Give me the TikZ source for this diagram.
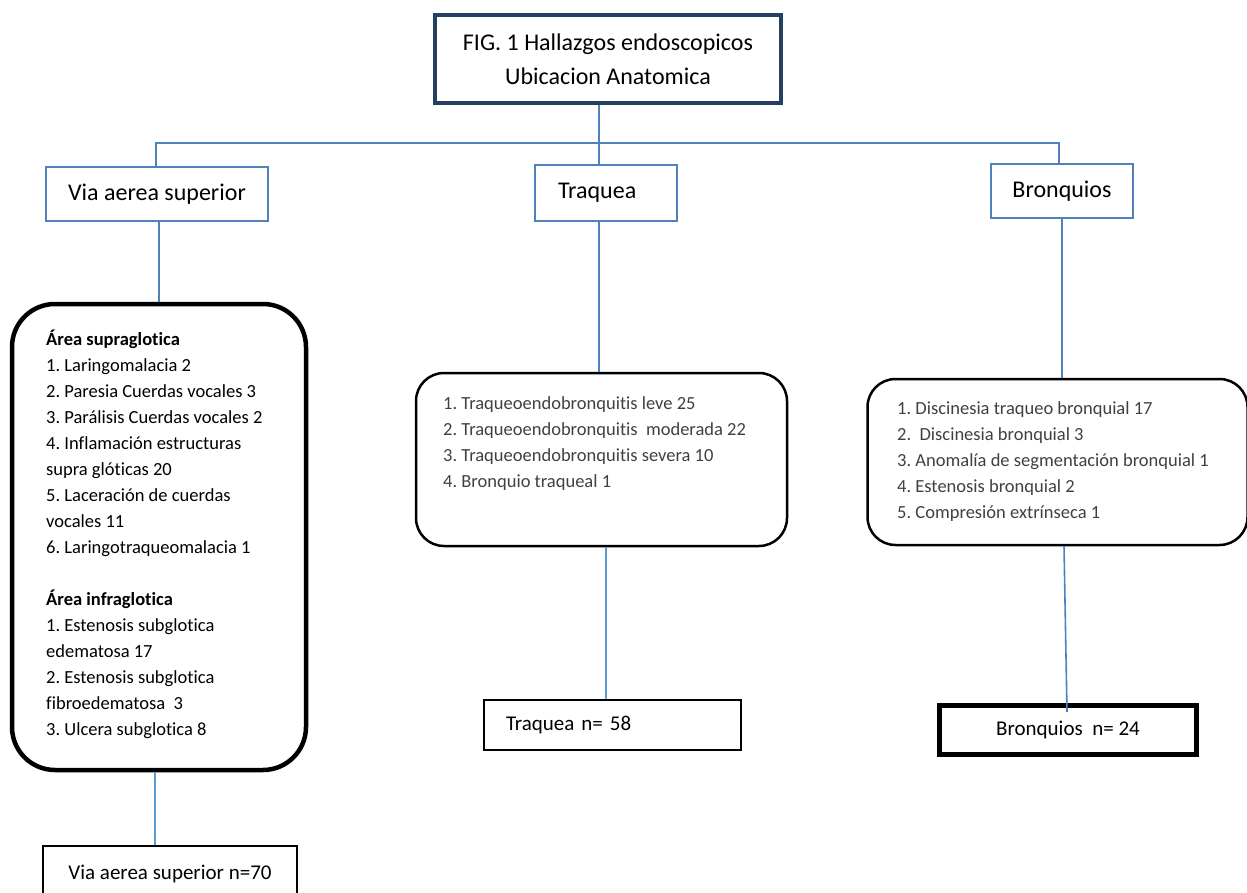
\documentclass[tikz,border=0pt]{standalone}
\usepackage{fontspec}
\setmainfont{Carlito}[Ligatures=NoCommon]
\frenchspacing
\definecolor{navy}{HTML}{243F60}
\definecolor{offblue}{HTML}{4F81BD}
\definecolor{litblue}{HTML}{5B9BD5}
\definecolor{txtgray}{HTML}{404040}
\begin{document}
\frenchspacing
\begin{tikzpicture}[x=1pt,y=-1pt,
  titlebox/.style={draw=navy,line width=4.5pt,rectangle,minimum width=346pt,minimum height=88pt,align=center,inner sep=0pt,font=\fontsize{24}{34}\selectfont},
  catbox/.style={draw=offblue,line width=2.5pt,rectangle,inner sep=0pt,font=\fontsize{24}{29}\selectfont},
  listbox/.style={draw=black,rectangle,rounded corners=#1,inner sep=0pt},
  listtext/.style={anchor=north west,align=left,inner sep=0pt,font=\fontsize{18.5}{26}\selectfont},
  nbox/.style={draw=black,rectangle,inner sep=0pt,font=\fontsize{21}{26}\selectfont},
  conn/.style={draw=offblue,line width=1.6pt},
  connlo/.style={draw=litblue,line width=1.2pt}
]
\useasboundingbox (0,0) rectangle (1247,893);

% top level
\node[titlebox] (title) at (608,59) {FIG. 1 Hallazgos endoscopicos\\Ubicacion Anatomica};

% category boxes
\node[catbox,minimum width=222pt,minimum height=54pt] (via) at (157,194) {Via aerea superior};
\node[catbox,minimum width=142pt,minimum height=56pt,text width=96pt,align=left,inner xsep=23pt] (traq) at (606,193) {Traquea};
\node[catbox,minimum width=142pt,minimum height=54pt] (bron) at (1062,191) {Bronquios};

% list boxes
\node[listbox=43pt,line width=4.5pt,minimum width=294pt,minimum height=466pt] (lboxL) at (159,537) {};
\node[listbox=28pt,line width=2.5pt,minimum width=371pt,minimum height=173pt] (lboxM) at (601.5,459.5) {};
\node[listbox=28pt,line width=2.5pt,minimum width=380pt,minimum height=166pt] (lboxR) at (1057.5,462) {};

\node[listtext] (txtL) at (46,327) {\strut\textbf{Área supraglotica}\\
1. Laringomalacia 2\\
2. Paresia Cuerdas vocales 3\\
3. Parálisis Cuerdas vocales 2\\
4. Inflamación estructuras\\
supra glóticas 20\\
5. Laceración de cuerdas\\
vocales 11\\
6. Laringotraqueomalacia 1\\[26pt]
\textbf{Área infraglotica}\\
1. Estenosis subglotica\\
edematosa 17\\
2. Estenosis subglotica\\
fibroedematosa~~3\\
3. Ulcera subglotica 8};

\node[listtext,text=txtgray] (txtM) at (443,391) {\strut 1. Traqueoendobronquitis leve 25\\
2. Traqueoendobronquitis~~moderada 22\\
3. Traqueoendobronquitis severa 10\\
4. Bronquio traqueal 1};

\node[listtext,text=txtgray] (txtR) at (897,396) {\strut 1. Discinesia traqueo bronquial 17\\
2.~~Discinesia bronquial 3\\
3. Anomalía de segmentación bronquial 1\\
4. Estenosis bronquial 2\\
5. Compresión extrínseca 1};

% totals
\node[nbox,line width=2.5pt,minimum width=254pt,minimum height=56pt] (via70) at (170,874) {Via aerea superior n=70};
\node[nbox,line width=2.5pt,minimum width=257pt,minimum height=50pt,text width=213pt,align=left,inner xsep=22pt] (tq58) at (612.5,725) {Traquea n= 58};
\node[nbox,line width=5pt,minimum width=257pt,minimum height=49pt] (br24) at (1068,730) {Bronquios~~n= 24};

% junction coordinates
\coordinate (jl) at (156,143);
\coordinate (jm) at (599,143);
\coordinate (jr) at (1059,143);
\coordinate (cv) at (159,0);
\coordinate (cb) at (1062,0);
\coordinate (cl) at (155,0);
\coordinate (cm) at (606,0);
\coordinate (cr) at (1064,0);
\coordinate (brend) at (1067,712);

% connectors
\draw[conn] (title.south -| jm) -- (traq.north -| jm);
\draw[conn] (via.north -| jl) |- (jr) -- (bron.north -| jr);
\draw[conn] (via.south -| cv) -- (lboxL.north -| cv);
\draw[conn] (traq.south -| jm) -- (lboxM.north -| jm);
\draw[conn] (bron.south -| cb) -- (lboxR.north -| cb);
\draw[connlo] (lboxL.south -| cl) -- (via70.north -| cl);
\draw[connlo] (lboxM.south -| cm) -- (tq58.north -| cm);
\draw[conn] (lboxR.south -| cr) -- (brend);
\end{tikzpicture}
\end{document}
